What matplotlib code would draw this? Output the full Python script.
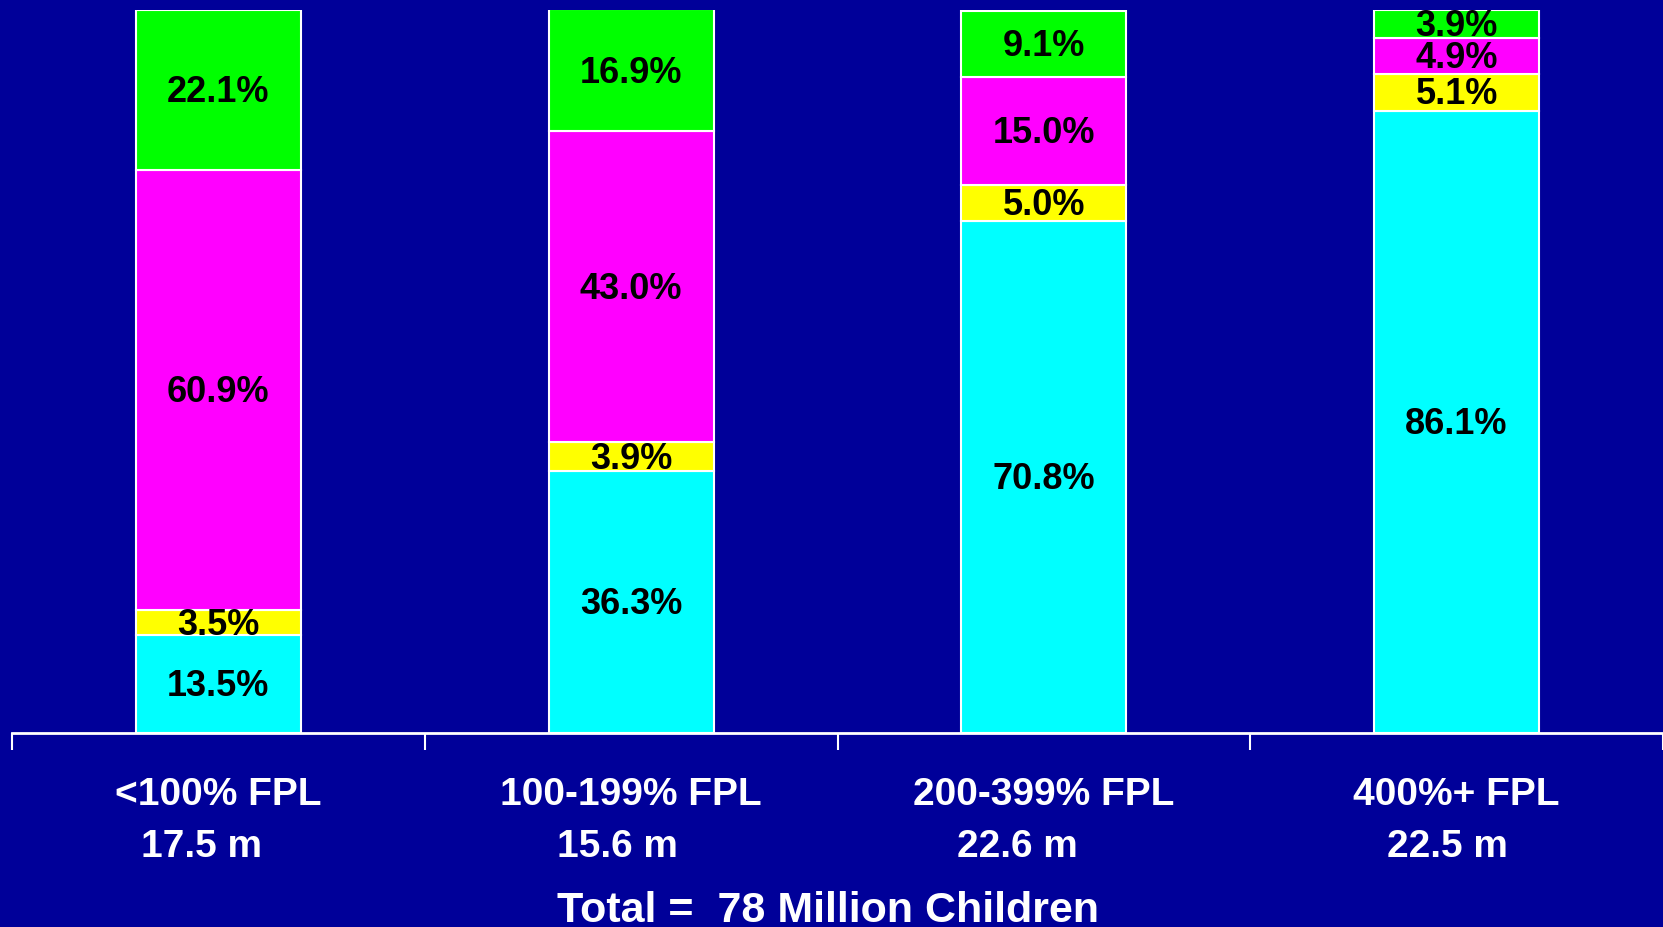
import matplotlib
matplotlib.use("Agg")
import matplotlib.pyplot as plt
from matplotlib.ticker import FixedLocator

BG      = "#000099"
CYAN    = "#00FFFF"
YELLOW  = "#FFFF00"
MAGENTA = "#FF00FF"
GREEN   = "#00FF00"

plt.rcParams["font.family"] = ["Liberation Sans", "DejaVu Sans"]
plt.rcParams["font.weight"] = "bold"

# ── data ─────────────────────────────────────────────────────────────────────
categories = ["<100% FPL", "100-199% FPL", "200-399% FPL", "400%+ FPL"]
counts     = ["17.5 m", "15.6 m", "22.6 m", "22.5 m"]
cyan_vals    = [13.5, 36.3, 70.8, 86.1]
yellow_vals  = [3.5, 3.9, 5.0, 5.1]
magenta_vals = [60.9, 43.0, 15.0, 4.9]
green_vals   = [22.1, 16.9, 9.1, 3.9]
total_label  = "Total =  78 Million Children"

series = [
    (cyan_vals, CYAN),
    (yellow_vals, YELLOW),
    (magenta_vals, MAGENTA),
    (green_vals, GREEN),
]

# small left shift of the count line under each category (category units)
count_shift = [-0.04, -0.034, -0.065, -0.022]

fig = plt.figure(figsize=(16.63, 9.27), dpi=100, facecolor=BG)
ax = fig.add_axes([12 / 1663, 0.2093, 1 - 12 / 1663, 0.7799], facecolor=BG)

x = list(range(len(categories)))
bottoms = [0.0] * len(categories)
for vals, color in series:
    ax.bar(x, vals, bottom=bottoms, width=0.4, color=color,
           edgecolor="white", linewidth=1.5, zorder=2)
    for xi, b, v in zip(x, bottoms, vals):
        ax.annotate(f"{v:.1f}%", (xi, b + v / 2), xytext=(0, -2),
                    textcoords="offset points", ha="center", va="center",
                    fontsize=26, fontweight="bold", color="black", zorder=3)
    bottoms = [b + v for b, v in zip(bottoms, vals)]

ax.set_xlim(-0.5, 3.5)
ax.set_ylim(0, 100)

for side in ["top", "right", "left"]:
    ax.spines[side].set_visible(False)
ax.spines["bottom"].set_color("white")
ax.spines["bottom"].set_linewidth(2)
ax.spines["bottom"].set_zorder(4)

ax.set_yticks([])
ax.set_xticks([])
ax.xaxis.set_minor_locator(FixedLocator([-0.5, 0.5, 1.5, 2.5, 3.5]))
ax.tick_params(axis="x", which="minor", length=12, width=1.5,
               color="white", direction="out")

trans = ax.get_xaxis_transform()
for xi, name, cnt, sh in zip(x, categories, counts, count_shift):
    ax.text(xi, -0.0996, name, transform=trans, ha="center", va="baseline",
            fontsize=28, fontweight="bold", color="white", clip_on=False)
    ax.text(xi + sh, -0.1715, cnt, transform=trans, ha="center", va="baseline",
            fontsize=28, fontweight="bold", color="white", clip_on=False)

fig.text(0.498, 0.0054, total_label, ha="center", va="baseline",
         fontsize=31, fontweight="bold", color="white")

fig.savefig("out.png", dpi=100, facecolor=BG)
